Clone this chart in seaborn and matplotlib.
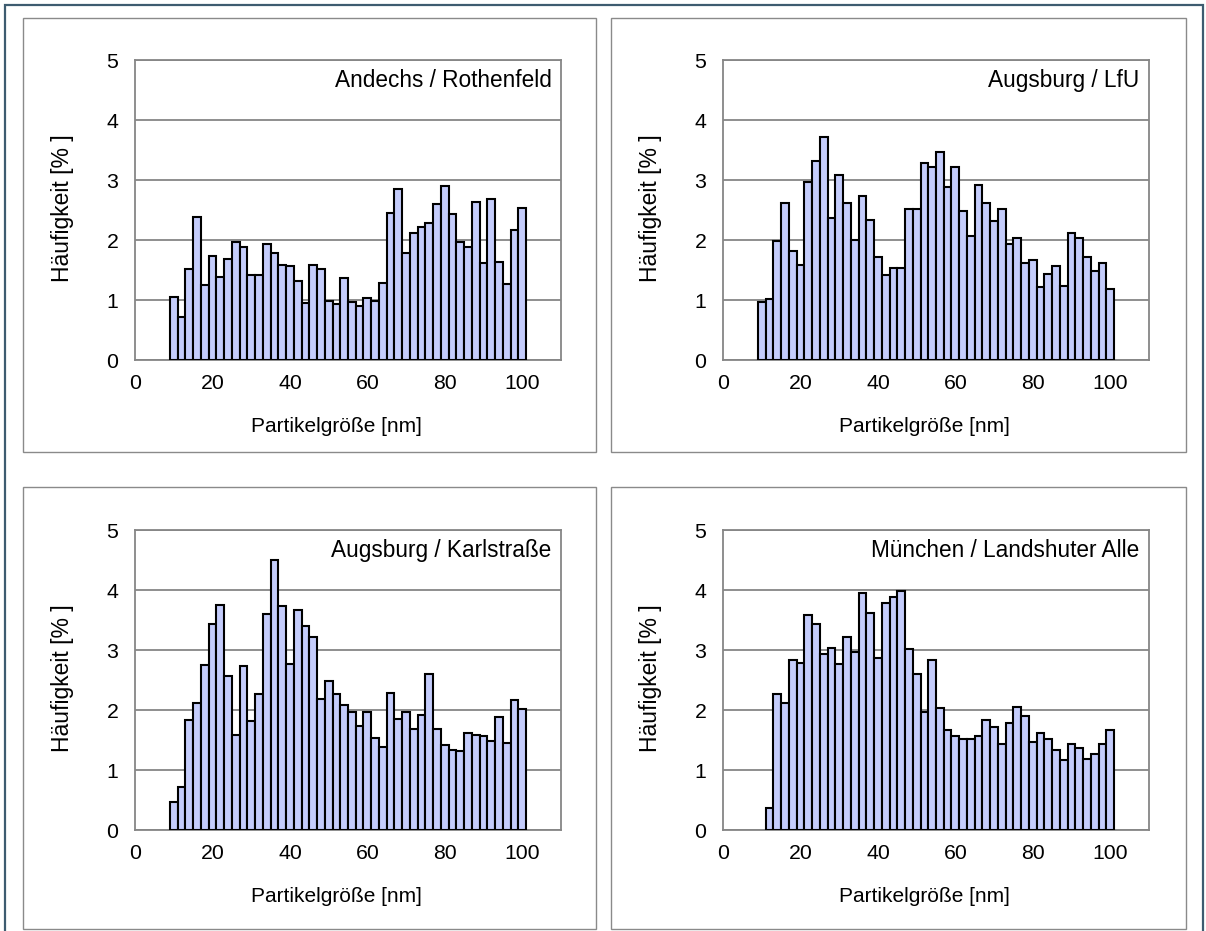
import matplotlib
matplotlib.use("Agg")
import matplotlib.pyplot as plt
import seaborn as sns
import pandas as pd
from matplotlib.patches import Rectangle

# ---------------- data ----------------
bins_from_10 = [10, 12, 14, 16, 18, 20, 22, 24, 26, 28, 30, 32, 34, 36, 38, 40,
                42, 44, 46, 48, 50, 52, 54, 56, 58, 60, 62, 64, 66, 68, 70, 72,
                74, 76, 78, 80, 82, 84, 86, 88, 90, 92, 94, 96, 98, 100]
bins_from_12 = [12, 14, 16, 18, 20, 22, 24, 26, 28, 30, 32, 34, 36, 38, 40,
                42, 44, 46, 48, 50, 52, 54, 56, 58, 60, 62, 64, 66, 68, 70, 72,
                74, 76, 78, 80, 82, 84, 86, 88, 90, 92, 94, 96, 98, 100]

andechs = [1.05, 0.71, 1.51, 2.39, 1.25, 1.73, 1.38, 1.69, 1.96, 1.88, 1.41, 1.41,
           1.94, 1.78, 1.59, 1.56, 1.31, 0.95, 1.59, 1.51, 0.99, 0.93, 1.36, 0.97,
           0.90, 1.03, 0.99, 1.28, 2.45, 2.85, 1.78, 2.11, 2.21, 2.28, 2.60, 2.90,
           2.43, 1.96, 1.88, 2.63, 1.61, 2.68, 1.63, 1.26, 2.17, 2.53]
augsburg_lfu = [0.96, 1.01, 1.99, 2.61, 1.82, 1.58, 2.96, 3.31, 3.72, 2.37, 3.09, 2.61,
                2.00, 2.74, 2.34, 1.72, 1.41, 1.53, 1.53, 2.52, 2.52, 3.28, 3.21, 3.47,
                2.89, 3.21, 2.48, 2.06, 2.91, 2.61, 2.31, 2.52, 1.94, 2.04, 1.61, 1.66,
                1.21, 1.44, 1.57, 1.24, 2.12, 2.04, 1.71, 1.49, 1.61, 1.18]
augsburg_karl = [0.47, 0.72, 1.83, 2.12, 2.75, 3.44, 3.75, 2.57, 1.58, 2.73, 1.81, 2.26,
                 3.60, 4.50, 3.73, 2.77, 3.67, 3.40, 3.21, 2.18, 2.48, 2.26, 2.08, 1.97,
                 1.73, 1.96, 1.53, 1.38, 2.28, 1.85, 1.97, 1.68, 1.92, 2.60, 1.68, 1.42,
                 1.34, 1.31, 1.62, 1.58, 1.57, 1.49, 1.88, 1.45, 2.17, 2.02]
muenchen = [0.37, 2.26, 2.12, 2.83, 2.78, 3.58, 3.44, 2.93, 3.03, 2.77, 3.22, 2.96,
            3.95, 3.61, 2.87, 3.78, 3.89, 3.99, 3.01, 2.60, 1.96, 2.83, 2.04, 1.66,
            1.56, 1.51, 1.52, 1.57, 1.83, 1.72, 1.44, 1.78, 2.05, 1.90, 1.46, 1.62,
            1.51, 1.34, 1.17, 1.43, 1.37, 1.19, 1.27, 1.43, 1.66]

titles = ["Andechs / Rothenfeld", "Augsburg / LfU",
          "Augsburg / Karlstraße", "München / Landshuter Alle"]
x_ticks = [0, 20, 40, 60, 80, 100]
y_ticks = [0, 1, 2, 3, 4, 5]
x_label = "Partikelgröße [nm]"
y_label = "Häufigkeit [% ]"

# ---------------- style ----------------
sns.set_style("white")
plt.rcParams["font.family"] = ["Liberation Sans", "DejaVu Sans"]
plt.rcParams["text.color"] = "black"
plt.rcParams["axes.labelcolor"] = "black"

W, H = 1206, 931
BAR = "#c4ccfb"
GRAY = "#868686"

fig = plt.figure(figsize=(W / 100, H / 100), dpi=100)
fig.patch.set_facecolor("white")

def fig_rect(x, y, w, h):
    return [x / W, 1 - (y + h) / H, w / W, h / H]

# outer frame
fig.add_artist(Rectangle((5 / W, 1 - 940 / H), 1198 / W, 935 / H,
                         transform=fig.transFigure, fill=False,
                         edgecolor="#3e5c70", linewidth=1.6))

panel_boxes = [(23, 18, 573, 434), (611, 18, 575, 434),
               (23, 487, 573, 442), (611, 487, 575, 442)]
for (bx, by, bw, bh) in panel_boxes:
    fig.add_artist(Rectangle((bx / W, 1 - (by + bh) / H), bw / W, bh / H,
                             transform=fig.transFigure, fill=False,
                             edgecolor="#8a8a8a", linewidth=1.0))

series = [(bins_from_10, andechs), (bins_from_10, augsburg_lfu),
          (bins_from_10, augsburg_karl), (bins_from_12, muenchen)]
origins = [(135, 60), (723, 60), (135, 530), (723, 530)]

for (bins, vals), title, (ox, oy) in zip(series, titles, origins):
    ax = fig.add_axes(fig_rect(ox, oy, 426, 300))
    df = pd.DataFrame({"size": bins, "freq": vals})
    sns.barplot(data=df, x="size", y="freq", native_scale=True, width=1.0,
                color=BAR, saturation=1, edgecolor="black", linewidth=1.5,
                errorbar=None, ax=ax, zorder=3)
    ax.set_xlim(0, 110)
    ax.set_ylim(0, 5)
    ax.set_xticks(x_ticks)
    ax.set_yticks(y_ticks)
    ax.set_axisbelow(True)
    ax.yaxis.grid(True, color=GRAY, linewidth=1.3)
    ax.xaxis.grid(False)
    for s in ax.spines.values():
        s.set_color(GRAY)
        s.set_linewidth(1.3)
        s.set_visible(True)
    ax.tick_params(axis="both", direction="out", length=5, width=1.3,
                   color=GRAY, labelsize=15.3, labelcolor="black")
    ax.tick_params(axis="y", pad=7)
    ax.tick_params(axis="x", pad=5)
    ax.set_xlabel(x_label, fontsize=15, va="center", color="black")
    ax.set_ylabel(y_label, fontsize=16.5, va="center", ha="center", color="black")
    ax.xaxis.set_label_coords(0.474, -0.222)
    ax.yaxis.set_label_coords(-0.171, 0.505)
    ax.text(0.978, 0.933, title, transform=ax.transAxes, ha="right",
            va="center", fontsize=16.3, color="black")

fig.savefig("out.png", dpi=100)
